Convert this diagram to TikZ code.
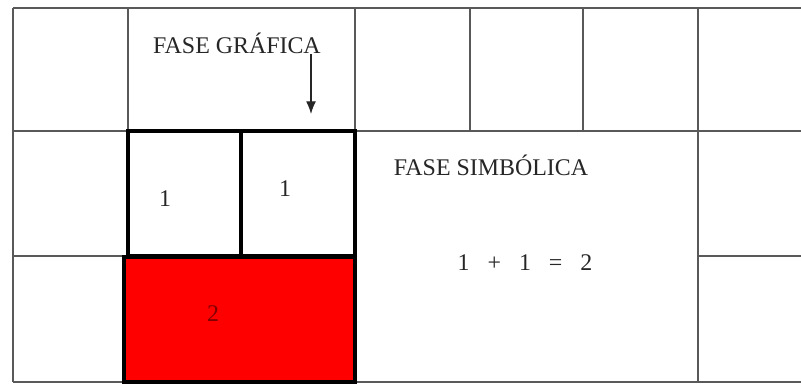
\documentclass[tikz,border=0pt]{standalone}
\usepackage{fontspec}
\setmainfont{Liberation Serif}
\usetikzlibrary{arrows.meta, positioning}

\begin{document}
\begin{tikzpicture}[x=0.025cm, y=-0.025cm,
    gridline/.style={draw=black!65, line width=1.3pt},
    thickbox/.style={draw=black, line width=3pt},
    redbox/.style={draw=black, line width=3pt, fill=red},
    phase/.style={font=\fontsize{17}{20}\selectfont, inner sep=0pt, anchor=base, text=black!85},
    digit/.style={font=\fontsize{17}{20}\selectfont, inner sep=0pt, anchor=base, text=black!85},
    arrow/.style={-{Latex[length=9pt, width=7pt]}, line width=0.8pt, draw=black!85}
]
\useasboundingbox (0,0) rectangle (801,385);

% Gitter
\draw[gridline] (13,8) -- (801,8);
\draw[gridline] (13,131) -- (801,131);
\draw[gridline] (13,256) -- (128,256);
\draw[gridline] (698,256) -- (801,256);
\draw[gridline] (13,382) -- (801,382);
\draw[gridline] (13,8) -- (13,382);
\draw[gridline] (128,8) -- (128,382);
\draw[gridline] (355,8) -- (355,382);
\draw[gridline] (470,8) -- (470,131);
\draw[gridline] (583,8) -- (583,131);
\draw[gridline] (698,8) -- (698,382);

% Kaesten
\draw[thickbox] (128,131) rectangle (241,256);
\draw[thickbox] (241,131) rectangle (355,256);
\draw[redbox] (124,257) rectangle (355,382);

% Texte
\node[phase] (grafica) at (237,54) {FASE GRÁFICA};
\node[phase] (simbolica) at (491,176) {FASE SIMBÓLICA};
\node[digit] (unoa) at (165,207) {1};
\node[digit] (unob) at (285,197) {1};
\node[digit, text=red!50!black] (dos) at (213,322) {2};
\node[digit] (suma) at (525,271) {1\hspace{0.75em}+\hspace{0.75em}1\hspace{0.75em}=\hspace{0.75em}2};

% Pfeil
\coordinate (arrtop) at (311,54);
\coordinate (arrbot) at (311,114);
\draw[arrow] (arrtop) -- (arrbot);

\end{tikzpicture}
\end{document}
